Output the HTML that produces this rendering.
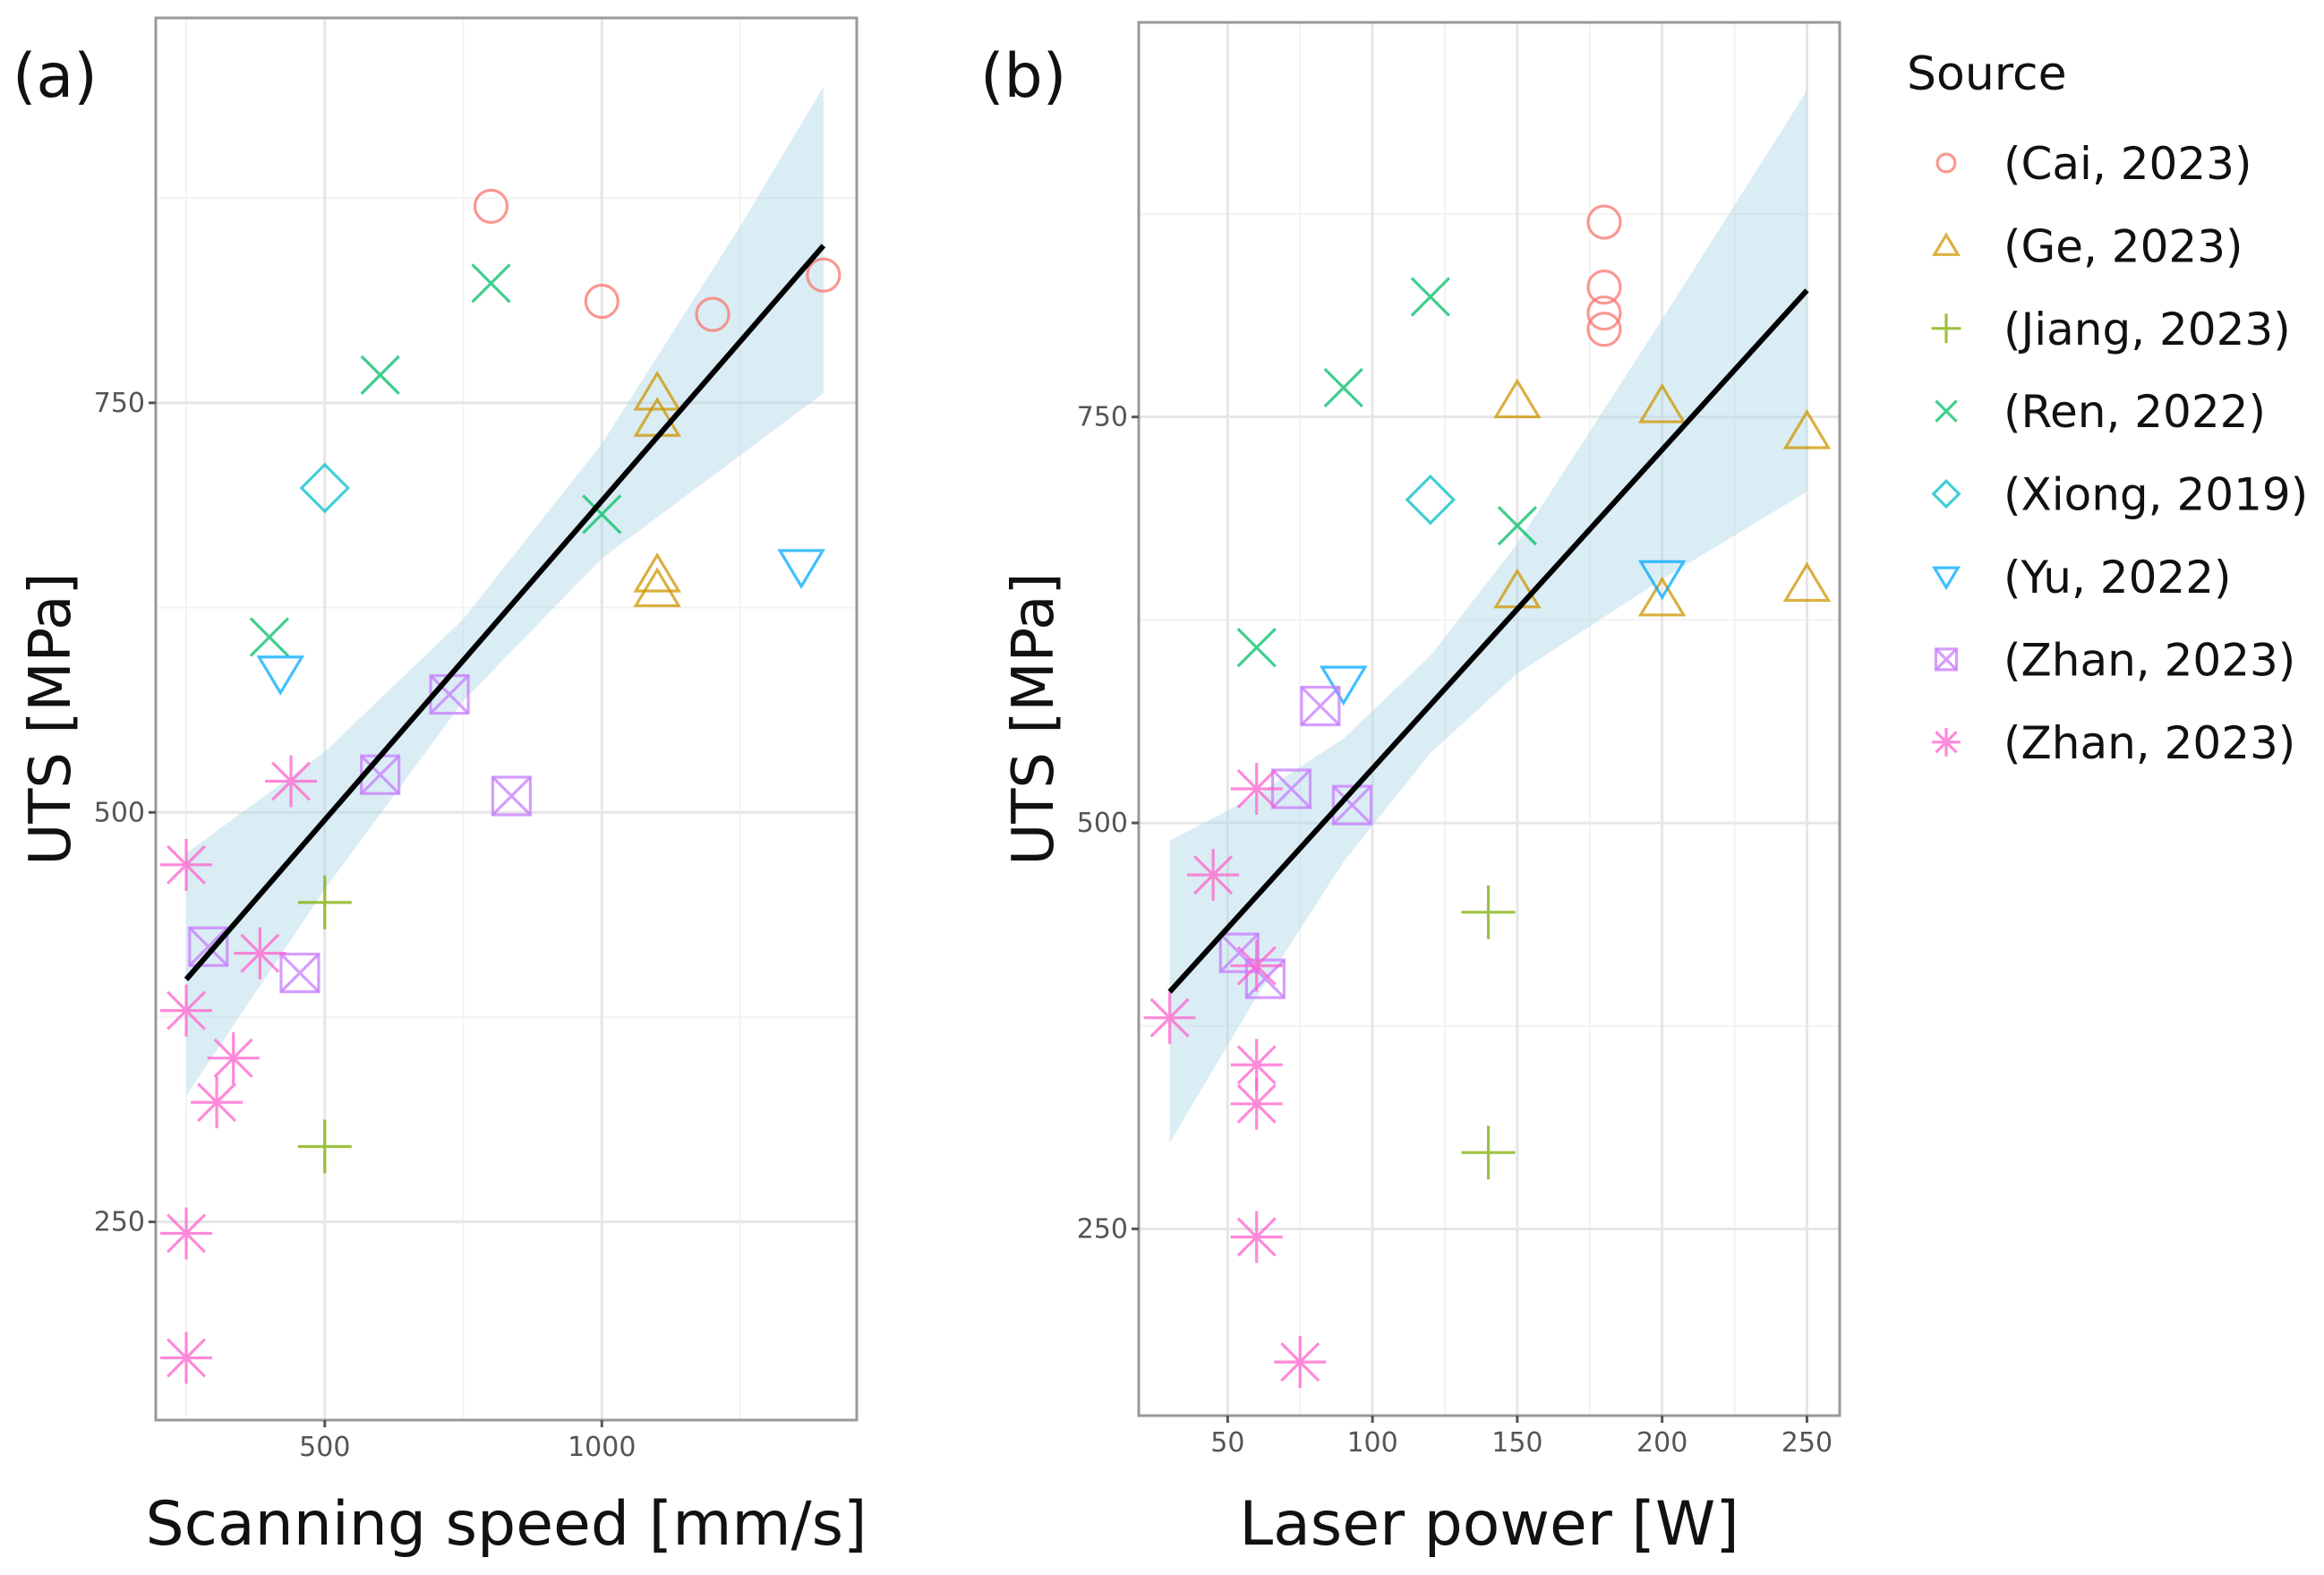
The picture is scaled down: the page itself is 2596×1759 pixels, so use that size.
<!DOCTYPE html>
<html><head><meta charset="utf-8"><style>
html,body{margin:0;padding:0;background:#fff;}
svg{display:block;font-family:"DejaVu Sans","Liberation Sans",sans-serif;}
</style></head><body>
<svg id="fig" width="2596" height="1759" viewBox="0 0 2596 1759" xmlns="http://www.w3.org/2000/svg"></svg>
<script>
// ---- Panel (a) data: scanning speed vs UTS ----
const speedSources = ["Cai","Ge","Jiang","Ren","Xiong","Yu","ZhanSq","ZhanAst"];
const speedX = {
  Cai:[800,1000,1200,1400], Ge:[1100,1100,1100,1100], Jiang:[500,500],
  Ren:[800,600,1000,400], Xiong:[500], Yu:[420,1360],
  ZhanSq:[725,600,837,290,455], ZhanAst:[439,250,383,250,335,305,250,250]
};
const speedY = {
  Cai:[870,812,804,828], Ge:[756,740,645,636], Jiang:[445,296],
  Ren:[823,767,682,607], Xiong:[698], Yu:[585,650],
  ZhanSq:[572,523,510,418,402], ZhanAst:[519,468,414,379,350,323,243,167]
};
const speedFitX = [250,1400];
const speedFitY = [398,846];
const speedBandX = [250,500,750,1000,1250,1400];
const speedBandLo = [327,453,568,655,718,756];
const speedBandHi = [475,537,618,725,858,943];
const speedXTicks = [500,1000];
const speedXMinor = [250,750,1250];
const utsTicks = [250,500,750];
const utsMinor = [375,625,875];

// ---- Panel (b) data: laser power vs UTS ----
const powerX = {
  Cai:[180,180,180,180], Ge:[150,200,250,150,200,250], Jiang:[140,140],
  Ren:[120,90,150,60], Xiong:[120], Yu:[90,200],
  ZhanSq:[82,72,93,54,63], ZhanAst:[60,45,60,30,60,60,60,75]
};
const powerY = {
  Cai:[870,830,814,804], Ge:[760,757,741,643,638,647], Jiang:[445,297],
  Ren:[824,768,683,608], Xiong:[699], Yu:[586,651],
  ZhanSq:[572,521,511,420,404], ZhanAst:[521,468,412,380,351,327,245,168]
};
const powerFitX = [30,250];
const powerFitY = [396,828];
const powerBandX = [30,60,90,120,150,200,250];
const powerBandLo = [303,393,476,543,592,650,704];
const powerBandHi = [489,517,552,603,672,810,951];
const powerXTicks = [50,100,150,200,250];
const powerXMinor = [75,125,175,225];

const legendLabels = ["(Cai, 2023)","(Ge, 2023)","(Jiang, 2023)","(Ren, 2022)","(Xiong, 2019)","(Yu, 2022)","(Zhan, 2023)","(Zhan, 2023)"];
const colors = {Cai:"#F8766D",Ge:"#CD9600",Jiang:"#7CAE00",Ren:"#00BE67",Xiong:"#00BFC4",Yu:"#00A9FF",ZhanSq:"#C77CFF",ZhanAst:"#FF61CC"};

const NS="http://www.w3.org/2000/svg";
const svg=document.getElementById('fig');
function mk(tag,attrs,parent){const e=document.createElementNS(NS,tag);for(const k in attrs)e.setAttribute(k,attrs[k]);(parent||svg).appendChild(e);return e;}

function marker(src,cx,cy,s,g){
  const c=colors[src];
  const st={stroke:c,"stroke-width":3.2,fill:"none","stroke-opacity":0.75};
  const grp=mk('g',st,g);
  if(src==="Cai"){mk('circle',{cx:cx,cy:cy,r:18*s},grp);}
  else if(src==="Ge"){const h=20*s;mk('polygon',{points:`${cx},${cy-h*1.1} ${cx-h*1.2},${cy+h*0.9} ${cx+h*1.2},${cy+h*0.9}`},grp);}
  else if(src==="Jiang"){const h=30*s;mk('path',{d:`M${cx-h},${cy}H${cx+h}M${cx},${cy-h}V${cy+h}`},grp);}
  else if(src==="Ren"){const h=21*s;mk('path',{d:`M${cx-h},${cy-h}L${cx+h},${cy+h}M${cx-h},${cy+h}L${cx+h},${cy-h}`},grp);}
  else if(src==="Xiong"){const h=26*s;mk('polygon',{points:`${cx},${cy-h} ${cx+h},${cy} ${cx},${cy+h} ${cx-h},${cy}`},grp);}
  else if(src==="Yu"){const h=20*s;mk('polygon',{points:`${cx},${cy+h*1.1} ${cx-h*1.2},${cy-h*0.9} ${cx+h*1.2},${cy-h*0.9}`},grp);}
  else if(src==="ZhanSq"){const h=21*s;mk('rect',{x:cx-h,y:cy-h,width:2*h,height:2*h},grp);mk('path',{d:`M${cx-h},${cy-h}L${cx+h},${cy+h}M${cx-h},${cy+h}L${cx+h},${cy-h}`},grp);}
  else {const h=29*s,d=h*0.72;mk('path',{d:`M${cx-h},${cy}H${cx+h}M${cx},${cy-h}V${cy+h}M${cx-d},${cy-d}L${cx+d},${cy+d}M${cx-d},${cy+d}L${cx+d},${cy-d}`},grp);}
  return grp;
}

function panel(opt){
  const {L,R,T,B,x0,x1,y0,y1}=opt;
  const sx=v=>L+(v-x0)/(x1-x0)*(R-L);
  const sy=v=>B-(v-y0)/(y1-y0)*(B-T);
  const g=mk('g',{});
  
  
  opt.xMinor.forEach(v=>mk('line',{x1:sx(v),x2:sx(v),y1:T,y2:B,stroke:"#f3f3f3","stroke-width":2},g));
  opt.yMinor.forEach(v=>mk('line',{x1:L,x2:R,y1:sy(v),y2:sy(v),stroke:"#f3f3f3","stroke-width":2},g));
  opt.xTicks.forEach(v=>mk('line',{x1:sx(v),x2:sx(v),y1:T,y2:B,stroke:"#e6e6e6","stroke-width":3},g));
  opt.yTicks.forEach(v=>mk('line',{x1:L,x2:R,y1:sy(v),y2:sy(v),stroke:"#e6e6e6","stroke-width":3},g));
  let pts=opt.bx.map((v,i)=>`${sx(v)},${sy(opt.bhi[i])}`);
  for(let i=opt.bx.length-1;i>=0;i--)pts.push(`${sx(opt.bx[i])},${sy(opt.blo[i])}`);
  const band=mk('polygon',{points:pts.join(' '),fill:"#add8e6","fill-opacity":0.45},g);
  
  
  speedSources.forEach(src=>{
    opt.X[src].forEach((v,i)=>{
      const m=marker(src,sx(v),sy(opt.Y[src][i]),1,g);
      
      
    });
  });
  const fl=mk('line',{x1:sx(opt.fx[0]),y1:sy(opt.fy[0]),x2:sx(opt.fx[1]),y2:sy(opt.fy[1]),stroke:"#000","stroke-width":6},g);
  
  
  mk('rect',{x:L,y:T,width:R-L,height:B-T,fill:"none",stroke:"#999","stroke-width":3},g);
  opt.xTicks.forEach(v=>{
    mk('line',{x1:sx(v),x2:sx(v),y1:B,y2:B+8,stroke:"#555","stroke-width":3},g);
    const t=mk('text',{x:sx(v),y:B+40,"text-anchor":"middle","font-size":30,fill:"#555"},g);t.textContent=v;
    
  });
  opt.yTicks.forEach(v=>{
    mk('line',{x1:L-8,x2:L,y1:sy(v),y2:sy(v),stroke:"#555","stroke-width":3},g);
    const t=mk('text',{x:L-12,y:sy(v)+10,"text-anchor":"end","font-size":30,fill:"#555"},g);t.textContent=v;
    
  });
  const xt=mk('text',{x:(L+R)/2,y:1725,"text-anchor":"middle","font-size":68,fill:"#111"},g);xt.textContent=opt.xTitle;
  
  const yc=opt.yTitleX, ym=(T+B)/2;
  const yt=mk('text',{x:yc,y:ym,"text-anchor":"middle","font-size":64,fill:"#111",transform:`rotate(-90 ${yc} ${ym})`},g);yt.textContent="UTS [MPa]";
  
  const pl=mk('text',{x:opt.labX,y:108,"font-size":68,fill:"#111"},g);pl.textContent=opt.lab;
  
}

panel({name:'panel-a-speed',L:174,R:957,T:20,B:1586,x0:195,x1:1460,y0:129,y1:985,
  xTicks:speedXTicks,xMinor:speedXMinor,yTicks:utsTicks,yMinor:utsMinor,
  X:speedX,Y:speedY,fx:speedFitX,fy:speedFitY,bx:speedBandX,blo:speedBandLo,bhi:speedBandHi,
  xTitle:"Scanning speed [mm/s]",yTitleX:78,lab:"(a)",labX:14});
panel({name:'panel-b-power',L:1272,R:2055,T:25,B:1581,x0:19.3,x1:261.3,y0:135,y1:993,
  xTicks:powerXTicks,xMinor:powerXMinor,yTicks:utsTicks,yMinor:utsMinor,
  X:powerX,Y:powerY,fx:powerFitX,fy:powerFitY,bx:powerBandX,blo:powerBandLo,bhi:powerBandHi,
  xTitle:"Laser power [W]",yTitleX:1176,lab:"(b)",labX:1095});

const lg=mk('g',{});


const lt=mk('text',{x:2130,y:100,"font-size":52,fill:"#111"},lg);lt.textContent="Source";

speedSources.forEach((src,i)=>{
  const y=182+i*92.4;
  const e=mk('g',{},lg);
  
  
  marker(src,2174,y,0.55,e);
  const t=mk('text',{x:2238,y:y+18,"font-size":50,fill:"#111"},e);t.textContent=legendLabels[i];
});
</script>
</body></html>
